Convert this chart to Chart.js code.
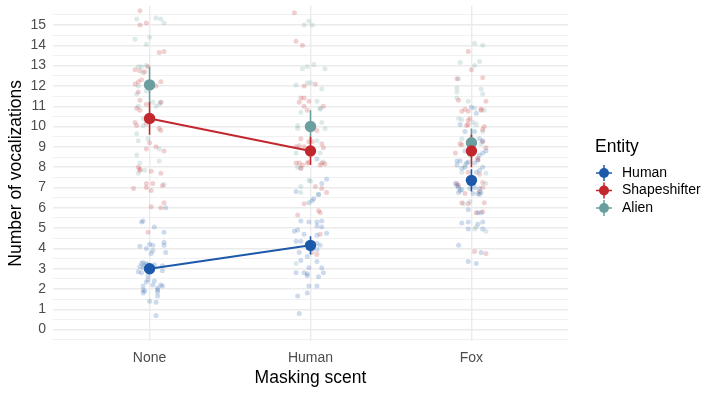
<!DOCTYPE html>
<html>
<head>
<meta charset="utf-8">
<script src="https://cdn.jsdelivr.net/npm/chart.js@4"></script>
<style>
  body { margin: 0; background: #fff; }
  #wrap { width: 720px; height: 396px; position: relative; }
</style>
</head>
<body>
<div id="wrap"><canvas id="chart"></canvas></div>
<script>
// Data
const categories = ['None', 'Human', 'Fox'];
const entities = ['Human', 'Shapeshifter', 'Alien'];

// means and error half-widths per category (None, Human, Fox)
const meanHuman = [3.0, 4.15, 7.35];
const meanShapeshifter = [10.4, 8.8, 8.8];
const meanAlien = [12.05, 10.0, 9.2];
const errHuman = [0.25, 0.45, 0.55];
const errShapeshifter = [0.8, 0.7, 0.8];
const errAlien = [0.9, 0.8, 0.7];

// entity lines only join None and Human in the reference
const lineCategories = 2;

// jittered raw points: [offset from category, vocalizations]
const humanNone = [[0.1,6.0],[-0.05,5.3],[-0.04,5.35],[0.03,5.05],[0.09,4.8],[-0.06,4.1],[-0.02,4.0],[0,4.2],[0.02,4.15],
  [0.02,3.9],[0.01,3.75],[0.09,4.3],[0.09,4.15],[0.1,3.8],[-0.05,3.25],[-0.04,3.3],[-0.02,3.25],[-0.06,3.1],[-0.04,3.05],
  [-0.03,3.15],[-0.01,3.2],[0.03,3.2],[0.08,3.15],[0.08,2.9],[-0.07,2.85],[-0.05,2.8],[-0.01,2.65],[0.03,2.4],[-0.02,2.35],
  [-0.01,2.45],[0.02,2.2],[-0.04,2.15],[0.07,2.2],[0.08,2.15],[0.05,2.05],[0.05,1.95],[0.05,1.85],[0.05,1.65],[-0.04,1.95],
  [-0.04,1.8],[-0.03,1.9],[0,1.4],[0.04,1.35],[0.04,0.7]];
const humanHuman = [[0.04,8.4],[0.1,7.4],[0.07,7.2],[-0.09,6.8],[-0.01,6.25],[0.01,6.35],[0.02,6.45],[0.05,6.65],[-0.06,5.35],
  [-0.01,5.3],[0.04,5.3],[0.07,5.35],[0.04,5.1],[0.07,5.05],[-0.1,4.85],[-0.08,4.9],[-0.04,4.7],[0.04,4.65],[0.1,4.75],
  [-0.09,4.35],[-0.06,4.35],[0.04,4.25],[0.06,4.15],[-0.07,3.8],[-0.02,3.6],[0.04,3.95],[0.04,3.35],[-0.06,3.4],[0.07,3.05],
  [-0.01,3.05],[-0.09,2.8],[-0.04,2.8],[-0.02,2.75],[-0.02,2.65],[0.05,2.6],[0.08,2.8],[-0.01,2.15],[0.04,2.15],[-0.02,1.8],
  [-0.08,1.65],[-0.07,0.8]];
const humanFox = [[0,10.95],[0.03,10.65],[-0.07,10.1],[0.02,9.75],[-0.04,9.75],[0.05,9.4],[0.07,9.3],[-0.04,8.8],[0.09,8.8],
  [0.07,8.7],[0.05,8.6],[-0.09,8.3],[-0.07,8.3],[-0.09,8.1],[-0.03,8.2],[-0.02,8.25],[0.02,8.2],[0.04,8.35],[-0.06,7.95],
  [-0.04,8.0],[0.03,7.75],[0.05,7.85],[0.07,8.0],[-0.1,7.2],[-0.09,7.1],[-0.08,7.0],[-0.07,6.85],[-0.06,6.9],[-0.01,6.95],
  [0.02,7.0],[0.05,6.95],[0.06,6.75],[0.04,6.7],[-0.08,6.75],[0.01,6.7],[0.05,6.65],[-0.02,5.9],[0.04,5.75],[0.06,5.75],
  [-0.06,5.25],[-0.02,5.3],[0.04,5.2],[0.07,5.3],[-0.02,4.95],[0.07,4.95],[-0.08,4.15],[0.06,3.8],[-0.02,3.35],[0.03,3.25]];

const shapeshifterNone = [[-0.06,15.7],[-0.06,15.0],[-0.02,15.1],[0.06,13.65],[0.09,13.7],[-0.09,12.8],[-0.06,12.75],
  [-0.03,12.7],[-0.01,12.95],[-0.09,12.1],[-0.07,12.2],[-0.05,12.3],[0.07,12.2],[0.04,12.0],[-0.07,11.7],[-0.06,11.3],
  [-0.02,11.1],[0.07,11.2],[-0.08,10.9],[-0.06,10.8],[-0.09,10.2],[-0.08,10.05],[-0.02,10.15],[0.06,9.9],[0.07,9.8],
  [0,9.2],[-0.02,8.9],[0.04,9.0],[0.09,8.8],[-0.07,8.0],[-0.06,7.9],[-0.06,7.85],[0.01,7.8],[0.07,7.7],[-0.02,7.2],
  [0.02,7.2],[-0.1,6.95],[-0.02,7.0],[0.01,6.85],[0.08,7.1],[0.09,6.25],[0.01,6.05],[0.07,6.0],[-0.01,4.8]];
const shapeshifterHuman = [[-0.1,15.6],[-0.09,14.2],[-0.05,14.0],[-0.04,12.0],[0.03,12.1],[-0.06,11.4],[-0.04,11.4],
  [-0.07,11.2],[-0.01,11.25],[-0.04,11.0],[0.08,11.0],[-0.02,10.8],[-0.06,9.4],[-0.01,9.25],[0.01,9.25],[0.04,9.8],
  [-0.09,9.0],[-0.07,9.05],[-0.04,9.0],[0.07,9.15],[0.08,8.95],[-0.09,8.2],[-0.07,8.2],[-0.06,7.95],[-0.05,8.1],
  [-0.02,8.2],[-0.01,8.25],[0.06,8.1],[0.07,8.2],[0.09,8.15],[0.03,7.05],[0.07,6.95],[0.1,6.75],[-0.04,6.2],[0.05,5.85],
  [0.06,5.75],[-0.08,5.65],[0.06,4.7],[0.04,3.7],[0.01,3.8]];
const shapeshifterFox = [[-0.02,13.7],[0,12.8],[-0.09,12.35],[0.07,12.4],[-0.08,11.3],[0.09,11.25],[-0.06,10.75],
  [-0.04,10.85],[-0.02,10.75],[0.06,10.85],[0.06,10.8],[-0.01,10.4],[-0.02,10.3],[-0.03,10.05],[-0.02,10.1],[0.08,10.0],
  [0.07,9.85],[-0.07,9.15],[-0.06,9.1],[0.07,9.25],[0.09,8.95],[-0.1,8.7],[0.04,8.45],[0.04,8.35],[-0.02,7.75],[0.05,7.65],
  [0.07,7.25],[-0.09,7.2],[-0.08,7.1],[0.07,7.0],[0.05,6.8],[-0.04,6.7],[-0.06,6.25],[-0.02,6.2],[0.08,6.25],[0.03,5.75],
  [0.07,5.8],[0.02,3.85],[0.09,3.75]];

const alienNone = [[-0.08,15.3],[0.04,15.35],[0.07,15.3],[0.09,15.1],[-0.09,14.3],[-0.02,14.05],[0,14.4],[-0.07,12.95],
  [-0.05,12.95],[-0.02,13.0],[-0.04,12.65],[-0.08,11.6],[-0.02,11.75],[-0.07,12.0],[0.02,11.2],[0.04,11.0],[0.07,11.2],
  [0.06,11.1],[-0.07,11.0],[-0.04,10.4],[-0.04,10.05],[-0.08,9.65],[-0.07,9.3],[-0.01,9.4],[0.06,8.9],[-0.08,8.6],
  [0.06,8.3],[-0.06,8.2],[-0.03,7.85],[-0.07,7.7],[0.09,7.15]];
const alienHuman = [[-0.04,15.0],[-0.01,15.2],[0.01,15.0],[-0.05,12.85],[-0.02,12.95],[0.02,13.05],[0.09,12.85],
  [-0.09,12.05],[-0.02,12.15],[0,12.15],[0.07,11.85],[0.04,11.25],[0.06,10.9],[0.06,10.85],[-0.06,10.7],[-0.08,10.05],
  [-0.08,9.9],[0.07,10.2],[0.09,9.9],[0.04,9.3],[-0.09,8.7],[0.06,8.7],[-0.08,8.0],[-0.06,7.95],[0.08,8.25],[-0.01,7.35],
  [0,7.3],[-0.06,7.05],[-0.06,6.75],[0.05,6.65],[-0.09,3.25]];
const alienFox = [[0.02,14.1],[0.07,14.0],[-0.07,13.15],[0.05,13.2],[0.02,13.0],[-0.08,12.35],[-0.09,11.9],[-0.09,11.7],
  [0.06,11.85],[0.07,11.6],[-0.09,11.4],[-0.02,11.25],[0.08,10.8],[0.02,10.9],[-0.08,10.4],[-0.06,10.35],[0.01,10.2],
  [0.03,10.1],[0.07,9.75],[-0.06,9.4],[0.06,9.15],[-0.04,8.1],[-0.01,8.6],[0.09,7.7],[-0.06,7.75],[0.09,7.2],[-0.05,6.2],
  [-0.01,6.3],[0.03,5.05],[0.02,4.95],[0.09,4.85]];

// Styles
const entityColors = ['#1c59aa', '#c1272d', '#6b9e9e'];
const jitterAlpha = 0.22;
const fontFamily = "'Liberation Sans', Arial, sans-serif";

function withAlpha(hex, a) {
    const n = parseInt(hex.slice(1), 16);
    return `rgba(${(n >> 16) & 255}, ${(n >> 8) & 255}, ${n & 255}, ${a})`;
}

const rawByEntity = [
    [humanNone, humanHuman, humanFox],
    [shapeshifterNone, shapeshifterHuman, shapeshifterFox],
    [alienNone, alienHuman, alienFox]
];
const means = [meanHuman, meanShapeshifter, meanAlien];
const errs = [errHuman, errShapeshifter, errAlien];

const datasets = [];

// raw jittered points (drawn first)
entities.forEach((name, e) => {
    const pts = [];
    rawByEntity[e].forEach((group, c) => {
        group.forEach(([dx, y]) => pts.push({ x: c + 1 + dx, y: y }));
    });
    datasets.push({
        label: name + ' raw',
        data: pts,
        pointRadius: 2.5,
        pointBorderWidth: 0,
        pointBackgroundColor: withAlpha(entityColors[e], jitterAlpha),
        showLine: false,
        order: 4
    });
});

// lines joining the means
entities.forEach((name, e) => {
    if (name === 'Alien') return;
    datasets.push({
        label: name + ' line',
        data: means[e].slice(0, lineCategories).map((m, c) => ({ x: c + 1, y: m })),
        showLine: true,
        borderColor: entityColors[e],
        borderWidth: 2,
        pointRadius: 0,
        order: 3
    });
});

// error bars
entities.forEach((name, e) => {
    const segs = [];
    means[e].forEach((m, c) => {
        segs.push({ x: c + 1, y: m - errs[e][c] });
        segs.push({ x: c + 1, y: m + errs[e][c] });
        segs.push({ x: c + 1, y: null });
    });
    datasets.push({
        label: name + ' error',
        data: segs,
        showLine: true,
        spanGaps: false,
        borderColor: entityColors[e],
        borderWidth: 1.6,
        pointRadius: 0,
        order: 2
    });
});

// means on top
entities.forEach((name, e) => {
    datasets.push({
        label: name,
        data: means[e].map((m, c) => ({ x: c + 1, y: m })),
        pointRadius: 5.7,
        pointBorderWidth: 0,
        pointBackgroundColor: entityColors[e],
        showLine: false,
        order: 1
    });
});

// ggplot-style legend at the right
const legendPlugin = {
    id: 'entityLegend',
    afterDraw(chart) {
        const ctx = chart.ctx;
        ctx.save();
        ctx.fillStyle = '#000';
        ctx.textBaseline = 'middle';
        ctx.textAlign = 'left';
        ctx.font = `17.5px ${fontFamily}`;
        ctx.fillText('Entity', 595, 147);
        ctx.font = `14px ${fontFamily}`;
        entities.forEach((name, e) => {
            const y = 173 + e * 17.5;
            const x = 604;
            ctx.strokeStyle = entityColors[e];
            ctx.lineWidth = 1.5;
            ctx.beginPath();
            ctx.moveTo(x - 8, y); ctx.lineTo(x + 8, y);
            ctx.moveTo(x, y - 8); ctx.lineTo(x, y + 8);
            ctx.stroke();
            ctx.fillStyle = entityColors[e];
            ctx.beginPath();
            ctx.arc(x, y, 5, 0, Math.PI * 2);
            ctx.fill();
            ctx.fillStyle = '#000';
            ctx.fillText(name, 622, y);
        });
        ctx.restore();
    }
};

const ctx = document.getElementById('chart');
new Chart(ctx, {
    type: 'scatter',
    data: { datasets },
    plugins: [legendPlugin],
    options: {
        responsive: true,
        maintainAspectRatio: false,
        animation: false,
        layout: { padding: { left: 0, top: 5, right: 152, bottom: 0 } },
        plugins: {
            legend: { display: false },
            tooltip: { enabled: false }
        },
        scales: {
            x: {
                type: 'linear',
                min: 0.4,
                max: 3.6,
                afterBuildTicks: scale => {
                    scale.ticks = categories.map((c, i) => ({ value: i + 1 }));
                },
                afterFit: scale => {
                    scale.height = 55;
                    scale.paddingLeft = 0;
                    scale.paddingRight = 0;
                },
                ticks: {
                    callback: v => categories[v - 1],
                    color: '#4d4d4d',
                    font: { size: 14, family: fontFamily },
                    padding: 9
                },
                grid: { color: '#ebebeb', lineWidth: 1.4, drawTicks: false },
                border: { display: false },
                title: {
                    display: true,
                    text: 'Masking scent',
                    color: '#000',
                    font: { size: 17.5, family: fontFamily },
                    padding: { top: 0, bottom: 7 }
                }
            },
            y: {
                min: -0.56,
                max: 15.95,
                afterBuildTicks: scale => {
                    const t = [];
                    for (let v = -0.5; v <= 15.5; v += 0.5) t.push({ value: v });
                    scale.ticks = t;
                },
                afterFit: scale => {
                    scale.width = 53;
                    scale.paddingTop = 0;
                    scale.paddingBottom = 0;
                },
                ticks: {
                    autoSkip: false,
                    callback: v => Number.isInteger(v) ? v : '',
                    color: '#4d4d4d',
                    font: { size: 14, family: fontFamily },
                    padding: 7
                },
                grid: {
                    color: '#ebebeb',
                    lineWidth: c => Number.isInteger(c.tick.value) ? 1.4 : 0.7,
                    drawTicks: false
                },
                border: { display: false },
                title: {
                    display: true,
                    text: 'Number of vocalizations',
                    color: '#000',
                    font: { size: 17.5, family: fontFamily },
                    padding: { top: 6, bottom: 0 }
                }
            }
        }
    }
});
</script>
</body>
</html>
